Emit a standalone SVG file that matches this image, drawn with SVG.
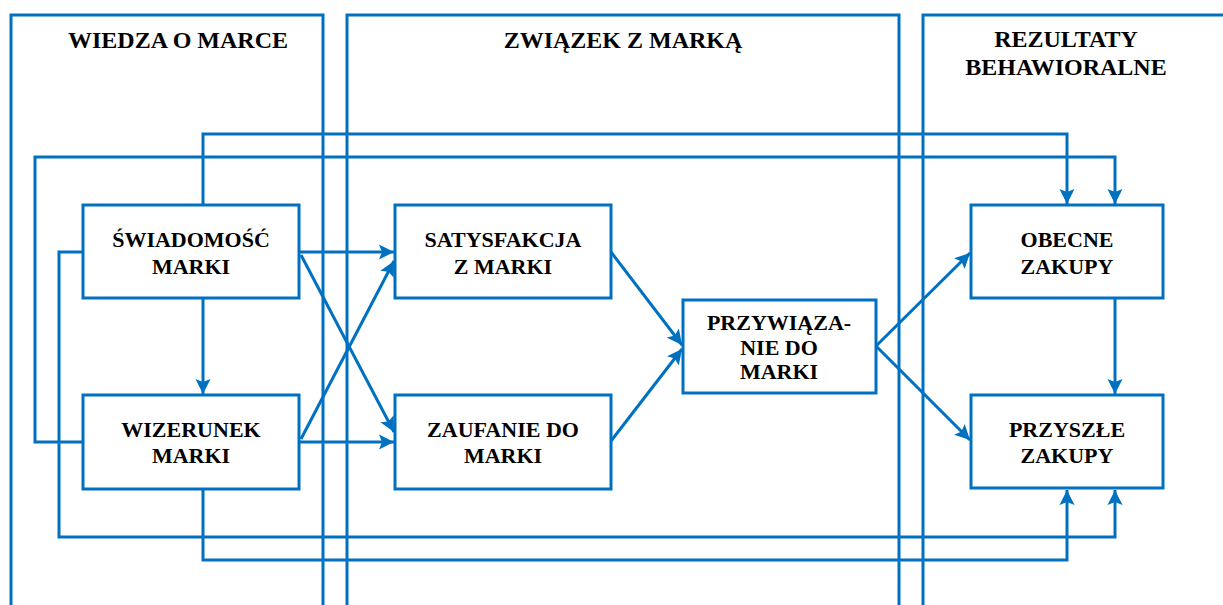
<svg xmlns="http://www.w3.org/2000/svg" width="1223" height="605" viewBox="0 0 1223 605">
<style>
.pl{fill:none;stroke:#0070C0;stroke-width:3}
.bx{fill:#fff;stroke:#0070C0;stroke-width:3}
.c{fill:none;stroke:#0070C0;stroke-width:3;stroke-linejoin:miter}
.a{marker-end:url(#ah)}
.h{font-family:"Liberation Serif","Times New Roman",serif;font-weight:bold;font-size:24px;fill:#000;text-anchor:middle}
.t{font-family:"Liberation Serif","Times New Roman",serif;font-weight:bold;font-size:22px;fill:#000;text-anchor:middle}
</style>
<defs>
<marker id="ah" markerUnits="userSpaceOnUse" markerWidth="16" markerHeight="16" refX="15" refY="7.5" orient="auto" viewBox="0 0 16 15">
<path d="M0,0 L15,7.5 L0,15 L3,7.5 z" fill="#0070C0"/>
</marker>
</defs>
<rect width="1223" height="605" fill="#fff"/>
<g id="panels">
<path class="pl" d="M11,606 V15 H323 V606"/>
<path class="pl" d="M347,606 V15 H899 V606"/>
<path class="pl" d="M923,606 V15 H1226"/>
<text class="h" x="178" y="48">WIEDZA O MARCE</text>
<text class="h" x="623" y="48">ZWIĄZEK Z MARKĄ</text>
<text class="h" x="1066" y="47">REZULTATY</text>
<text class="h" x="1066" y="75">BEHAWIORALNE</text>
</g>
<g id="connectors">
<path class="c a" d="M203,205 V134 H1067 V204"/>
<path class="c a" d="M83,442 H35 V157 H1115 V204"/>
<path class="c a" d="M83,252 H59 V537 H1115 V490"/>
<path class="c a" d="M203,489 V560 H1067 V490"/>
<path class="c a" d="M203,298 V394"/>
<path class="c a" d="M299,252 H394"/>
<path class="c a" d="M299,442 H394"/>
<path class="c a" d="M301,255 L394,432"/>
<path class="c a" d="M301,439 L394,261"/>
<path class="c a" d="M611,252 L682,345"/>
<path class="c a" d="M611,441 L682,349"/>
<path class="c a" d="M876,346 L970,253"/>
<path class="c a" d="M876,346 L970,440"/>
<path class="c a" d="M1115,298 V394"/>
</g>
<g id="swiadomosc">
<rect class="bx" x="83" y="205" width="216" height="93"/>
<text class="t" x="191" y="247">ŚWIADOMOŚĆ</text>
<text class="t" x="191" y="274">MARKI</text>
</g>
<g id="wizerunek">
<rect class="bx" x="83" y="395" width="216" height="94"/>
<text class="t" x="191" y="437">WIZERUNEK</text>
<text class="t" x="191" y="463">MARKI</text>
</g>
<g id="satysfakcja">
<rect class="bx" x="395" y="205" width="216" height="93"/>
<text class="t" x="503" y="247">SATYSFAKCJA</text>
<text class="t" x="503" y="274">Z MARKI</text>
</g>
<g id="zaufanie">
<rect class="bx" x="395" y="395" width="216" height="94"/>
<text class="t" x="503" y="437">ZAUFANIE DO</text>
<text class="t" x="503" y="463">MARKI</text>
</g>
<g id="przywiazanie">
<rect class="bx" x="683" y="300" width="193" height="93"/>
<text class="t" x="779" y="330">PRZYWIĄZA-</text>
<text class="t" x="779" y="355">NIE DO</text>
<text class="t" x="779" y="379">MARKI</text>
</g>
<g id="obecne">
<rect class="bx" x="971" y="205" width="192" height="93"/>
<text class="t" x="1067" y="247">OBECNE</text>
<text class="t" x="1067" y="274">ZAKUPY</text>
</g>
<g id="przyszle">
<rect class="bx" x="971" y="395" width="192" height="93"/>
<text class="t" x="1067" y="437">PRZYSZŁE</text>
<text class="t" x="1067" y="463">ZAKUPY</text>
</g>
</svg>
